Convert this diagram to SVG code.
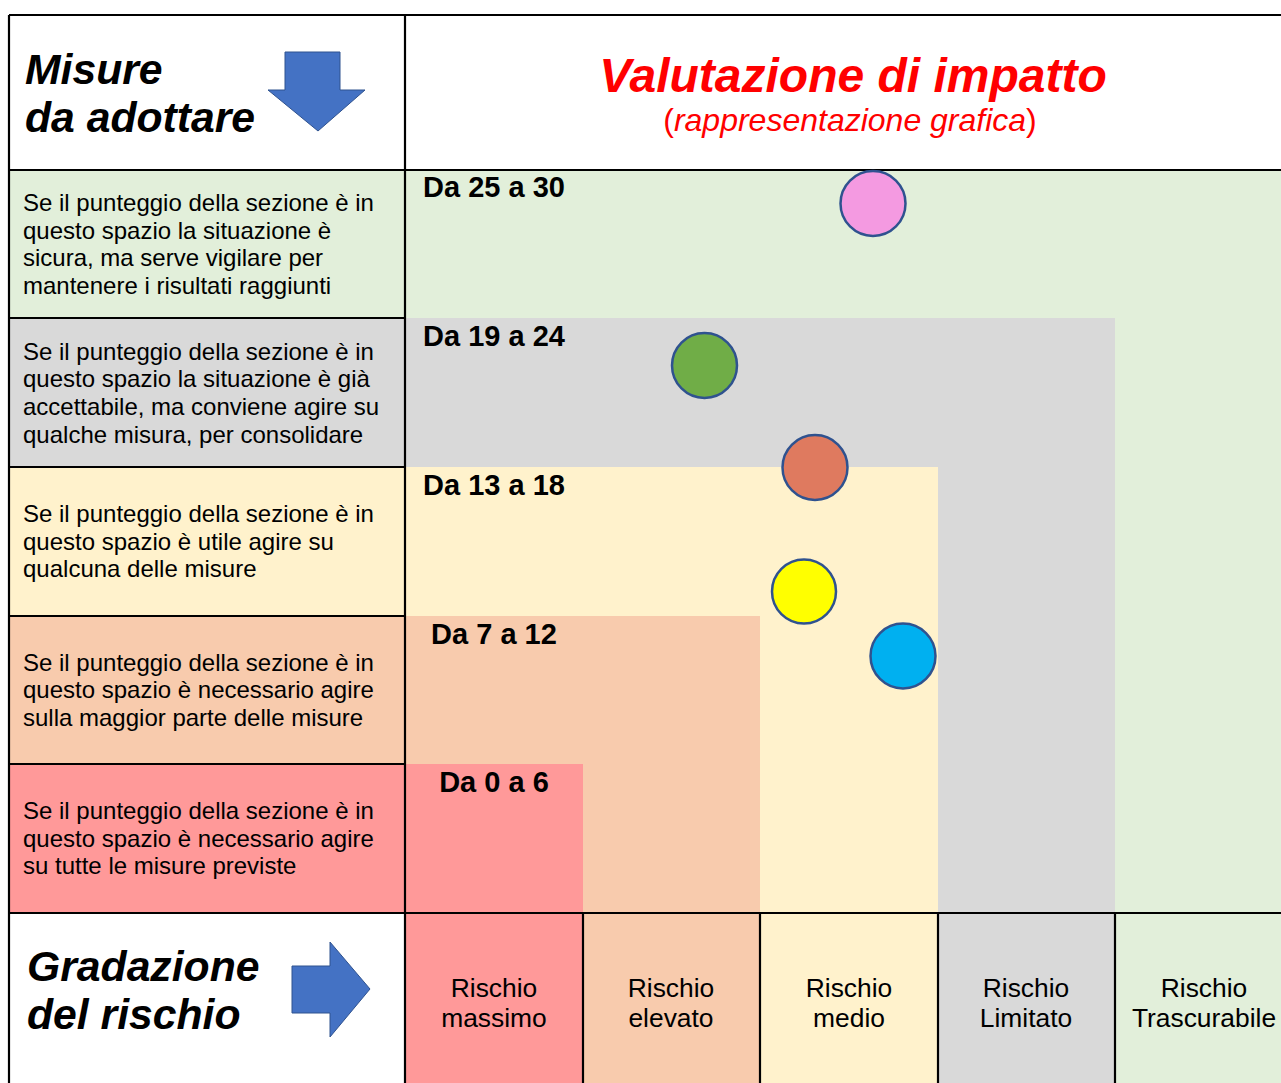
<svg xmlns="http://www.w3.org/2000/svg" width="1281" height="1083" viewBox="0 0 1281 1083">
<style>
.desc{font-family:"Liberation Sans",Arial,sans-serif;font-size:24px;fill:#000}
.hdr{font-family:"Liberation Sans",Arial,sans-serif;font-size:42.7px;font-weight:bold;font-style:italic;fill:#000}
.rng{font-family:"Liberation Sans",Arial,sans-serif;font-size:29px;font-weight:bold;fill:#000;text-anchor:middle}
.lvl{font-family:"Liberation Sans",Arial,sans-serif;font-size:26.4px;fill:#000;text-anchor:middle}
.ln{stroke:#000;stroke-width:2.2;fill:none}
.dot{stroke:#2F528F;stroke-width:2.5}
.arr{fill:#4472C4;stroke:#2F528F;stroke-width:1}
</style>
<rect x="0" y="0" width="1281" height="1083" fill="#fff"/>
<g id="zones">
<rect x="405" y="170" width="876" height="913" fill="#E2EFDA"/>
<rect x="405" y="318" width="710" height="765" fill="#D9D9D9"/>
<rect x="405" y="467" width="533" height="616" fill="#FFF2CC"/>
<rect x="405" y="616" width="355" height="467" fill="#F8CBAD"/>
<rect x="405" y="764" width="178" height="319" fill="#FF9999"/>
</g>
<g id="row1"><rect x="9" y="170" width="396" height="148" fill="#E2EFDA"/>
<text class="desc" x="23" y="211">Se il punteggio della sezione è in</text>
<text class="desc" x="23" y="239">questo spazio la situazione è</text>
<text class="desc" x="23" y="266">sicura, ma serve vigilare per</text>
<text class="desc" x="23" y="294">mantenere i risultati raggiunti</text></g>
<g id="row2"><rect x="9" y="318" width="396" height="149" fill="#D9D9D9"/>
<text class="desc" x="23" y="360">Se il punteggio della sezione è in</text>
<text class="desc" x="23" y="387">questo spazio la situazione è già</text>
<text class="desc" x="23" y="415">accettabile, ma conviene agire su</text>
<text class="desc" x="23" y="443">qualche misura, per consolidare</text></g>
<g id="row3"><rect x="9" y="467" width="396" height="149" fill="#FFF2CC"/>
<text class="desc" x="23" y="522">Se il punteggio della sezione è in</text>
<text class="desc" x="23" y="550">questo spazio è utile agire su</text>
<text class="desc" x="23" y="577">qualcuna delle misure</text></g>
<g id="row4"><rect x="9" y="616" width="396" height="148" fill="#F8CBAD"/>
<text class="desc" x="23" y="671">Se il punteggio della sezione è in</text>
<text class="desc" x="23" y="698">questo spazio è necessario agire</text>
<text class="desc" x="23" y="726">sulla maggior parte delle misure</text></g>
<g id="row5"><rect x="9" y="764" width="396" height="149" fill="#FF9999"/>
<text class="desc" x="23" y="819">Se il punteggio della sezione è in</text>
<text class="desc" x="23" y="847">questo spazio è necessario agire</text>
<text class="desc" x="23" y="874">su tutte le misure previste</text></g>
<g id="ranges">
<text class="rng" x="494" y="197">Da 25 a 30</text>
<text class="rng" x="494" y="346">Da 19 a 24</text>
<text class="rng" x="494" y="495">Da 13 a 18</text>
<text class="rng" x="494" y="644">Da 7 a 12</text>
<text class="rng" x="494" y="792">Da 0 a 6</text>
</g>
<g id="header-left">
<text class="hdr" x="25" y="84">Misure</text>
<text class="hdr" x="25" y="132">da adottare</text>
<path class="arr" d="M285,52 H340 V90 H365 L318,131 L268,90 H285 Z"/>
</g>
<g id="header-right">
<text x="853" y="92" text-anchor="middle" font-family="'Liberation Sans',Arial,sans-serif" font-size="48" font-weight="bold" font-style="italic" fill="#FF0000">Valutazione di impatto</text>
<text x="850" y="131" text-anchor="middle" font-family="'Liberation Sans',Arial,sans-serif" font-size="32" fill="#FF0000">(<tspan font-style="italic">rappresentazione grafica</tspan>)</text>
</g>
<g id="footer-left">
<text class="hdr" x="27" y="981">Gradazione</text>
<text class="hdr" x="27" y="1029">del rischio</text>
<path class="arr" d="M292,966 H330 V942 L370,989 L330,1037 V1013 H292 Z"/>
</g>
<g id="levels">
<text class="lvl" x="494" y="997">Rischio</text><text class="lvl" x="494" y="1027">massimo</text>
<text class="lvl" x="671" y="997">Rischio</text><text class="lvl" x="671" y="1027">elevato</text>
<text class="lvl" x="849" y="997">Rischio</text><text class="lvl" x="849" y="1027">medio</text>
<text class="lvl" x="1026" y="997">Rischio</text><text class="lvl" x="1026" y="1027">Limitato</text>
<text class="lvl" x="1204" y="997">Rischio</text><text class="lvl" x="1204" y="1027">Trascurabile</text>
</g>
<g id="connectors">
<path class="ln" d="M9,15 H1281 M9,15 V1083 M405,15 V1083 M9,170 H1281 M9,318 H405 M9,467 H405 M9,616 H405 M9,764 H405 M9,913 H1281 M583,913 V1083 M760,913 V1083 M938,913 V1083 M1115,913 V1083"/>
</g>
<g id="dots">
<circle class="dot" cx="873" cy="203.5" r="32.5" fill="#F49AE1"/>
<circle class="dot" cx="704.5" cy="365.5" r="32.5" fill="#70AD47"/>
<circle class="dot" cx="815" cy="467.5" r="32.5" fill="#DF7A5F"/>
<circle class="dot" cx="804" cy="591.5" r="32" fill="#FFFF00"/>
<circle class="dot" cx="903" cy="656" r="32.5" fill="#00B0F0"/>
</g>
</svg>
